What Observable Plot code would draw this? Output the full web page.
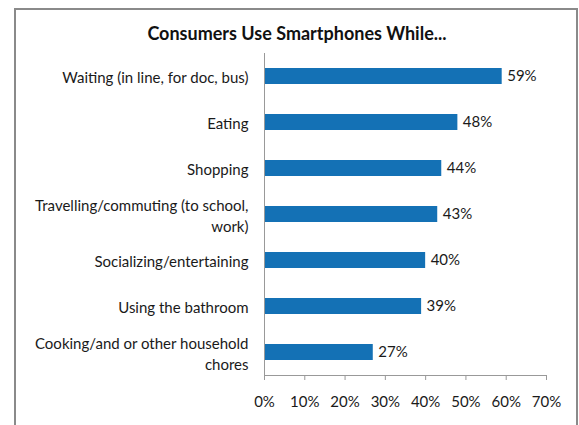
<!DOCTYPE html>
<html>
<head>
<meta charset="utf-8">
<script src="https://cdn.jsdelivr.net/npm/d3@7"></script>
<script src="https://cdn.jsdelivr.net/npm/@observablehq/plot@0.6"></script>
<style>
  html, body { margin: 0; padding: 0; background: #fff; }
  #wrap { position: relative; width: 579px; height: 425px; overflow: hidden; font-family: Lato, "Open Sans", sans-serif; }
  #border { position: absolute; left: 14px; top: 8px; width: 564px; height: 500px; border: 2px solid #8a8a8a; box-sizing: border-box; }
  #title { position: absolute; left: 14px; width: 566px; top: 22px; text-align: center; font-weight: bold; font-size: 18px; color: #111; }
  #chart { position: absolute; left: 0; top: 0; }
</style>
</head>
<body>
<div id="wrap">
  <div id="border"></div>
  <div id="title">Consumers Use Smartphones While...</div>
  <div id="chart"></div>
</div>
<script>
const categories = [
  "Waiting (in line, for doc, bus)",
  "Eating",
  "Shopping",
  "Travelling/commuting (to school, work)",
  "Socializing/entertaining",
  "Using the bathroom",
  "Cooking/and or other household chores"
];
const labelLines = [
  "Waiting (in line, for doc, bus)",
  "Eating",
  "Shopping",
  "Travelling/commuting (to school,\nwork)",
  "Socializing/entertaining",
  "Using the bathroom",
  "Cooking/and or other household\nchores"
];
const values = [0.59, 0.48, 0.44, 0.43, 0.40, 0.39, 0.27];
const xTicks = [0, 0.1, 0.2, 0.3, 0.4, 0.5, 0.6, 0.7];

const data = categories.map((c, i) => ({category: c, label: labelLines[i], value: values[i]}));
const labelOf = new Map(data.map(d => [d.category, d.label]));

const chart = Plot.plot({
  width: 579,
  height: 425,
  marginLeft: 264,
  marginRight: 33,
  marginTop: 53,
  marginBottom: 50,
  style: {background: "transparent", fontFamily: "Lato, 'Open Sans', sans-serif", fontSize: "15px", color: "#1a1a1a"},
  x: {domain: [0, 0.7], axis: null},
  y: {domain: categories, paddingInner: 0.65, paddingOuter: 0.325, axis: null},
  marks: [
    Plot.axisX({anchor: "bottom", label: null, ticks: xTicks, tickFormat: d => Math.round(d * 100) + "%", tickSize: 5, tickPadding: 16, stroke: "#999", fill: "#1a1a1a", fontSize: 15}),
    Plot.frame({anchor: "bottom", stroke: "#999"}),
    Plot.axisY({anchor: "left", label: null, tickSize: 0, tickPadding: 16, tickFormat: c => labelOf.get(c), lineHeight: 1.45, fill: "#1a1a1a", fontSize: 15}),
    Plot.barX(data, {x: "value", y: "category", fill: "#1471b5"}),
    Plot.ruleX([0], {stroke: "#999"}),
    Plot.text(data, {x: "value", y: "category", text: d => Math.round(d.value * 100) + "%", textAnchor: "start", dx: 5, fill: "#1a1a1a", fontSize: 15})
  ]
});
document.getElementById("chart").append(chart);
</script>
</body>
</html>
